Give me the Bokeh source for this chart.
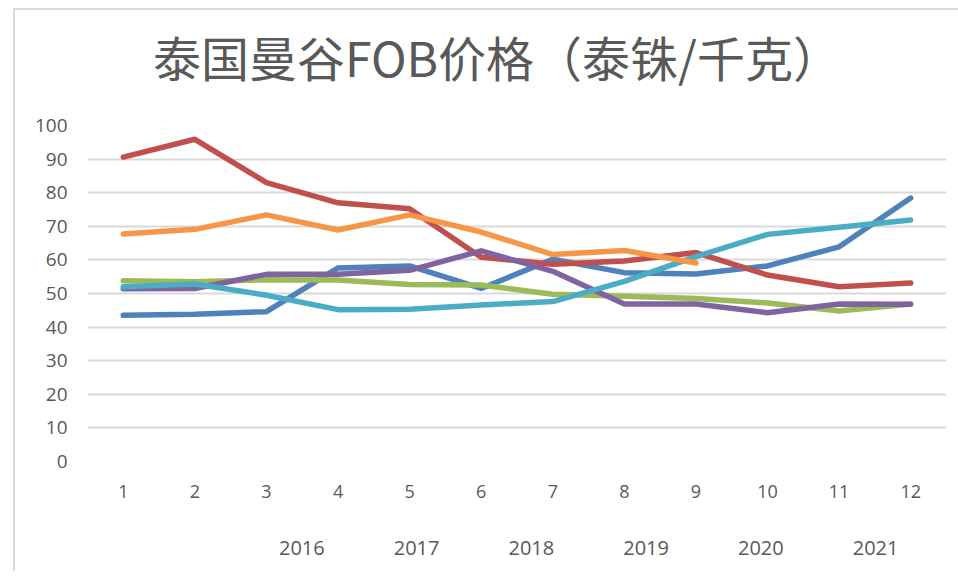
from bokeh.plotting import figure
from bokeh.models import Legend, LegendItem, FixedTicker, Div
from bokeh.layouts import column
from bokeh.embed import file_html
from bokeh.resources import INLINE

months = [1, 2, 3, 4, 5, 6, 7, 8, 9, 10, 11, 12]
y2016 = [43.5, 43.8, 44.6, 57.6, 58.2, 51.5, 60.2, 56.2, 55.8, 58.2, 63.9, 78.4]
y2017 = [90.6, 95.9, 83.0, 77.0, 75.2, 60.8, 58.7, 59.7, 62.2, 55.5, 52.0, 53.1]
y2018 = [53.8, 53.5, 54.1, 54.0, 52.7, 52.5, 49.8, 49.2, 48.5, 47.2, 44.8, 46.9]
y2019 = [51.4, 51.5, 55.7, 55.7, 56.9, 62.7, 56.6, 46.9, 46.9, 44.3, 46.9, 46.8]
y2020 = [52.0, 52.8, 49.5, 45.2, 45.3, 46.6, 47.6, 53.6, 61.0, 67.6, 69.7, 71.9]
y2021 = [67.7, 69.1, 73.4, 68.9, 73.4, 68.3, 61.6, 62.8, 59.1]
series_names = ["2016", "2017", "2018", "2019", "2020", "2021"]
series_values = [y2016, y2017, y2018, y2019, y2020, y2021]
colors = ["#4F81BD", "#C0504D", "#9BBB59", "#8064A2", "#4BACC6", "#F79646"]
y_ticks = [0, 10, 20, 30, 40, 50, 60, 70, 80, 90, 100]
title_text = "泰国曼谷FOB价格（泰铢/千克）"

title_div = Div(text=title_text, width=935, height=86,
                styles={"font-family": "'Noto Sans CJK SC'", "font-size": "48px",
                        "color": "#595959", "line-height": "82px",
                        "padding-left": "133px", "white-space": "nowrap"})

p = figure(frame_width=859, frame_height=336, x_range=(0.5, 12.5), y_range=(0, 100),
           output_backend="svg", toolbar_location=None,
           min_border_left=72, min_border_top=19, min_border_right=4,
           min_border_bottom=50)
p.outline_line_color = None
p.background_fill_color = "white"
p.border_fill_color = "white"

for name, vals, c in zip(series_names, series_values, colors):
    p.line(months[:len(vals)], vals, line_color=c, line_width=5.5,
           line_cap="round", line_join="round")

p.xgrid.grid_line_color = None
p.ygrid.grid_line_color = "#d9d9d9"
p.ygrid.grid_line_width = 2
p.ygrid.ticker = FixedTicker(ticks=y_ticks)

p.yaxis.ticker = FixedTicker(ticks=y_ticks)
p.yaxis.axis_line_color = None
p.yaxis.major_tick_line_color = None
p.yaxis.minor_tick_line_color = None
p.yaxis.major_label_standoff = 14
p.yaxis.major_label_text_font = "Open Sans"
p.yaxis.major_label_text_font_size = "19px"
p.yaxis.major_label_text_color = "#595959"

p.xaxis.ticker = FixedTicker(ticks=months)
p.xaxis.axis_line_color = None
p.xaxis.major_tick_line_color = None
p.xaxis.minor_tick_line_color = None
p.xaxis.major_label_standoff = 17
p.xaxis.major_label_text_font = "Open Sans"
p.xaxis.major_label_text_font_size = "18px"
p.xaxis.major_label_text_color = "#595959"

# legend strip: a separate small figure whose legend uses style-only proxies
pl = figure(width=935, height=60, x_range=(0, 1), y_range=(0, 1),
            output_backend="svg", toolbar_location=None, min_border=0,
            x_axis_location=None, y_axis_location=None)
pl.outline_line_color = None
pl.grid.visible = False
proxies = []
for name, c in zip(series_names, colors):
    r = pl.line(x=[], y=[], line_color=c, line_width=5.5, line_cap="round")
    proxies.append(LegendItem(label=name, renderers=[r]))

legend = Legend(items=proxies, orientation="horizontal", location=(130, 10),
                glyph_width=55, glyph_height=20, label_standoff=7, spacing=7,
                padding=0, margin=0, border_line_alpha=0, background_fill_alpha=0,
                label_text_font="Open Sans", label_text_font_size="20px",
                label_text_color="#595959")
pl.add_layout(legend, "center")

layout = column(title_div, p, pl, spacing=0)
layout.styles = {"border-top": "2px solid #d9d9d9", "border-left": "2px solid #d9d9d9",
                 "margin-top": "8px", "margin-left": "13px"}

open("out.html", "w").write(file_html(layout, INLINE))
